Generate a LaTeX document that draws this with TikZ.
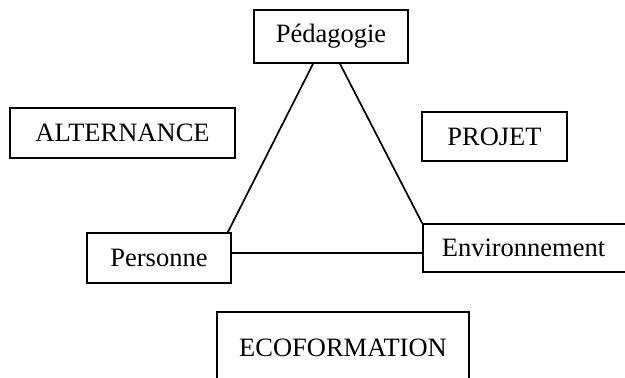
\documentclass[tikz,border=0pt]{standalone}
\usepackage{fontspec}
\setmainfont{Liberation Serif}
\usetikzlibrary{calc}
\begin{document}
\begin{tikzpicture}[x=1pt,y=1pt,
  boxnode/.style={draw=black,line width=1.7pt,inner sep=0pt,font=\fontsize{26.5}{31}\selectfont},
  link/.style={line width=1.7pt}]
\useasboundingbox (0,0) rectangle (625,-378);
\node[boxnode,minimum width=154,minimum height=53] (ped) at (331,-36.5) {Pédagogie};
\node[boxnode,minimum width=225,minimum height=50] (alt) at (122.5,-133) {ALTERNANCE};
\node[boxnode,minimum width=145,minimum height=49] (proj) at (494.5,-136.5) {PROJET};
\node[boxnode,minimum width=144,minimum height=50] (pers) at (159,-258) {Personne};
\node[boxnode,minimum width=208,minimum height=48] (env) at (527,-248) {\hspace*{-7pt}Environnement};
\node[boxnode,minimum width=252,minimum height=72] (eco) at (343,-348) {ECOFORMATION};
\coordinate (hline) at (0,-253);
\draw[link] ($(ped.south)+(-18,0)$) -- ($(pers.north east)+(-4,0)$);
\draw[link] ($(ped.south)+(9,0)$) -- (env.north west);
\draw[link] (pers.east |- hline) -- (env.west |- hline);
\end{tikzpicture}
\end{document}
